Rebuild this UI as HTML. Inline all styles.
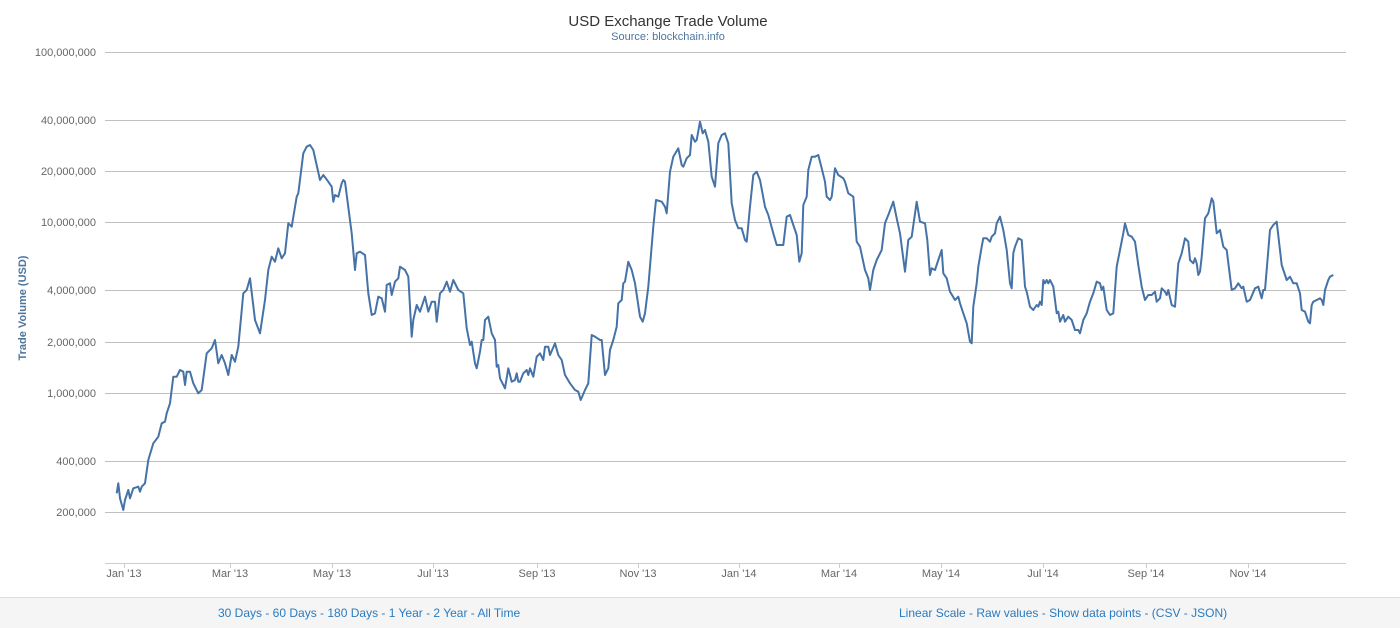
<!DOCTYPE html>
<html><head><meta charset="utf-8"><style>
body{margin:0;width:1400px;height:627px;background:#fff;font-family:"Liberation Sans",sans-serif;overflow:hidden;position:relative}
.bar{position:absolute;left:0;top:597px;width:1400px;height:30px;background:#f5f5f5;border-top:1px solid #ddd}
.bar span{position:absolute;top:8px;font-size:12px;color:#2a7bbf}
</style></head><body>
<svg width="1400" height="597" style="position:absolute;left:0;top:0" font-family="Liberation Sans, sans-serif">
<text x="668" y="26" text-anchor="middle" font-size="15" fill="#333">USD Exchange Trade Volume</text>
<text x="668" y="40" text-anchor="middle" font-size="11" fill="#4d759e">Source: blockchain.info</text>
<g stroke="#c0c0c0" stroke-width="1">
<line x1="105" x2="1346" y1="52.5" y2="52.5"/><line x1="105" x2="1346" y1="120.5" y2="120.5"/>
<line x1="105" x2="1346" y1="171.5" y2="171.5"/><line x1="105" x2="1346" y1="222.5" y2="222.5"/>
<line x1="105" x2="1346" y1="290.5" y2="290.5"/><line x1="105" x2="1346" y1="342.5" y2="342.5"/>
<line x1="105" x2="1346" y1="393.5" y2="393.5"/><line x1="105" x2="1346" y1="461.5" y2="461.5"/>
<line x1="105" x2="1346" y1="512.5" y2="512.5"/>
</g>
<line x1="105" x2="1346" y1="563.5" y2="563.5" stroke="#c0d0e0"/>
<g font-size="11" fill="#666" text-anchor="end">
<text x="96" y="56">100,000,000</text><text x="96" y="124">40,000,000</text><text x="96" y="175">20,000,000</text>
<text x="96" y="226">10,000,000</text><text x="96" y="294">4,000,000</text><text x="96" y="346">2,000,000</text>
<text x="96" y="397">1,000,000</text><text x="96" y="465">400,000</text><text x="96" y="516">200,000</text>
</g>
<g font-size="11" fill="#666" text-anchor="middle">
<text x="124" y="577">Jan '13</text><text x="230" y="577">Mar '13</text><text x="332" y="577">May '13</text>
<text x="433" y="577">Jul '13</text><text x="537" y="577">Sep '13</text><text x="638" y="577">Nov '13</text>
<text x="739" y="577">Jan '14</text><text x="839" y="577">Mar '14</text><text x="941" y="577">May '14</text>
<text x="1043" y="577">Jul '14</text><text x="1146" y="577">Sep '14</text><text x="1248" y="577">Nov '14</text>
</g>
<g stroke="#c0d0e0"><line x1="124.5" x2="124.5" y1="563" y2="568"/><line x1="230.5" x2="230.5" y1="563" y2="568"/><line x1="332.5" x2="332.5" y1="563" y2="568"/><line x1="433.5" x2="433.5" y1="563" y2="568"/><line x1="537.5" x2="537.5" y1="563" y2="568"/><line x1="638.5" x2="638.5" y1="563" y2="568"/><line x1="739.5" x2="739.5" y1="563" y2="568"/><line x1="839.5" x2="839.5" y1="563" y2="568"/><line x1="941.5" x2="941.5" y1="563" y2="568"/><line x1="1043.5" x2="1043.5" y1="563" y2="568"/><line x1="1146.5" x2="1146.5" y1="563" y2="568"/><line x1="1248.5" x2="1248.5" y1="563" y2="568"/></g>
<text transform="translate(26,308) rotate(-90)" text-anchor="middle" font-size="11" font-weight="bold" fill="#4d759e">Trade Volume (USD)</text>
<polyline id="ln" fill="none" stroke="#4572a7" stroke-width="2" stroke-linejoin="round" points=""/>
</svg>
<div class="bar"><span style="left:218px">30 Days - 60 Days - 180 Days - 1 Year - 2 Year - All Time</span><span style="left:899px">Linear Scale - Raw values - Show data points - (CSV - JSON)</span></div>
<script>
var a=[[35,1180],[40,1150],[45,1195],[55,1230],[60,1200],[70,1170],[75,1195],[85,1165],[100,1160],[105,1175],[110,1160],[120,1150],[130,1080],[145,1030],[160,1010],[170,970],[180,965],[185,940],[195,910],[205,830],[215,830],[225,810],[235,815],[240,855],[245,815],[255,815],[265,850],[280,880],[290,870],[305,760],[320,745],[330,720],[340,790],[350,765],[360,790],[370,825],[380,765],[390,785],[400,740],[415,580],[425,570],[435,535],[450,660],[465,700],[480,600],[490,510],[500,470],[510,485],[520,445],[530,475],[540,460],[550,370],[560,380],[575,290],[580,280],[595,160],[605,140],[615,135],[625,150],[645,240],[655,225],[670,245],[680,260],[685,305],[690,285],[700,290],[710,250],[715,240],[720,245],[740,400],[750,510],[755,460],[765,455],[780,465],[790,580],[800,645],[810,640],[820,590],[830,595],[840,635],[845,555],[855,550],[860,585],[870,545],[880,535],[885,500],[900,510],[910,530],[920,710],[925,660],[935,615],[945,635],[960,590],[970,635],[980,605],[990,605],[995,665],[1005,580],[1015,570],[1025,545],[1035,575],[1045,540],[1060,570],[1075,580],[1085,685],[1095,735],[1100,725],[1110,790],[1115,805],[1125,755],[1130,720],[1135,720],[1140,660],[1150,650],[1160,700],[1170,720],[1175,800],[1180,795],[1185,835],[1200,865],[1210,805],[1220,845],[1230,840],[1235,820],[1240,845]];
var b=[[0,845],[10,820],[20,810],[25,825],[30,805],[40,830],[50,770],[60,760],[70,780],[75,740],[85,740],[90,765],[105,730],[115,765],[125,780],[135,825],[150,850],[165,870],[175,875],[182,900],[195,870],[205,850],[215,705],[225,710],[240,720],[245,720],[255,825],[265,805],[270,750],[280,720],[290,680],[295,610],[305,600],[310,550],[315,545],[325,485],[335,510],[345,550],[360,650],[368,665],[375,640],[385,560],[400,380],[408,300],[425,305],[435,320],[440,340],[450,215],[460,170],[475,145],[485,195],[490,200],[500,175],[510,165],[515,105],[525,125],[530,120],[540,65],[548,100],[555,90],[565,125],[575,230],[585,260],[595,130],[605,105],[615,100],[625,130],[635,310],[645,360],[655,385],[665,385],[675,420],[680,425],[690,320],[700,225],[710,215],[720,240],[735,320],[745,345],[760,400],[770,435],[780,435],[790,435],[800,350],[810,345],[820,375],[830,405],[838,485],[845,460],[850,315],[860,290],[865,210],[875,170],[885,170],[895,165],[905,205],[915,245],[920,290],[930,300],[935,290],[945,205],[955,225],[970,235],[975,245],[985,280],[1000,290],[1010,425],[1020,440],[1035,510],[1045,535],[1050,570],[1060,510],[1070,480],[1085,450],[1095,370],[1105,345],[1120,305],[1130,355],[1140,400],[1155,515],[1165,420],[1175,410],[1190,305],[1200,365],[1215,370],[1222,420]];
var c=[[0,285],[5,265],[15,270],[25,240],[35,210],[40,280],[50,295],[60,335],[75,360],[85,350],[90,370],[100,400],[110,430],[120,485],[125,490],[130,380],[140,310],[145,260],[155,200],[160,175],[170,175],[180,185],[185,170],[195,160],[200,130],[210,110],[220,150],[230,210],[240,310],[245,325],[250,220],[255,200],[265,175],[275,180],[285,320],[290,335],[300,380],[310,390],[320,375],[325,380],[330,365],[335,375],[340,300],[345,310],[350,300],[355,310],[360,300],[370,320],[380,400],[385,395],[390,425],[400,405],[405,425],[415,410],[425,420],[435,450],[445,450],[450,460],[460,420],[470,400],[480,365],[490,340],[500,305],[510,310],[515,330],[520,320],[530,390],[540,405],[550,400],[560,260],[570,210],[580,160],[585,130],[595,165],[605,170],[615,185],[625,255],[635,320],[645,360],[655,345],[665,345],[670,340],[675,335],[680,365],[690,355],[695,325],[705,335],[710,345],[715,330],[725,375],[735,380],[745,250],[755,220],[765,175],[775,185],[780,240],[790,250],[795,235],[800,250],[805,285],[810,275],[815,230],[825,115],[835,100],[845,55],[850,65],[860,160],[870,150],[880,200],[890,210],[905,330],[915,325],[925,310],[935,325],[940,320],[950,365],[960,360],[975,325],[985,320],[995,355],[1000,330],[1005,330],[1020,150],[1030,135],[1040,125],[1055,255],[1070,300],[1080,290],[1090,310],[1100,310],[1110,340],[1115,390],[1125,395],[1135,425],[1140,430],[1145,375],[1150,365],[1160,360],[1170,355],[1175,360],[1180,375],[1185,330],[1195,300],[1200,290],[1210,285]];
var p=[];
a.forEach(function(q){p.push((105+q[0]/3).toFixed(1)+','+(100+q[1]/3).toFixed(1))});
b.forEach(function(q){p.push((520+q[0]/3).toFixed(1)+','+(100+q[1]/3).toFixed(1))});
c.forEach(function(q){p.push((930+q[0]/3).toFixed(1)+','+(180+q[1]/3).toFixed(1))});
document.getElementById('ln').setAttribute('points',p.join(' '));
</script>
</body></html>
